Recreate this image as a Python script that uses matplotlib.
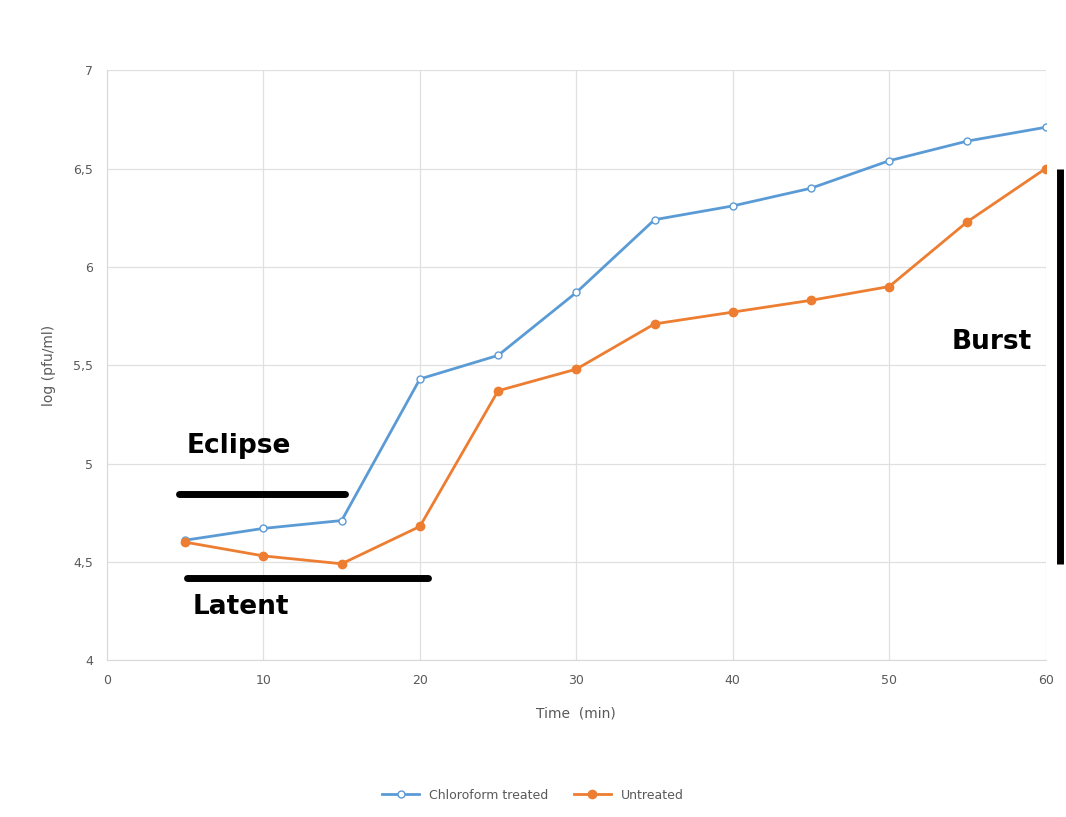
import numpy as np
import matplotlib.pyplot as plt
from matplotlib.ticker import FuncFormatter

time = [5, 10, 15, 20, 25, 30, 35, 40, 45, 50, 55, 60]
chloroform = [4.61, 4.67, 4.71, 5.43, 5.55, 5.87, 6.24, 6.31, 6.40, 6.54, 6.64, 6.71]
untreated = [4.60, 4.53, 4.49, 4.68, 5.37, 5.48, 5.71, 5.77, 5.83, 5.90, 6.23, 6.50]

blue = "#5B9BD5"
orange = "#ED7D31"
grey = "#595959"

fig = plt.figure(figsize=(10.66, 8.17), dpi=100)
ax = fig.add_axes([0.1004, 0.192, 0.8805, 0.722])

ax.plot(time, chloroform, color=blue, lw=2, marker="o", ms=5,
        markerfacecolor="white", markeredgecolor=blue, markeredgewidth=1,
        label="Chloroform treated")
ax.plot(time, untreated, color=orange, lw=2, marker="o", ms=6,
        label="Untreated")

ax.set_xlim(0, 60)
ax.set_ylim(4, 7)
ax.set_xticks(range(0, 61, 10))
ax.set_yticks(np.arange(4, 7.01, 0.5))
ax.yaxis.set_major_formatter(FuncFormatter(lambda v, p: ("%g" % v).replace(".", ",")))
ax.grid(True, color="#e0e0e0", lw=0.9)
ax.set_axisbelow(True)
for s in ["top", "right"]:
    ax.spines[s].set_visible(False)
for s in ["left", "bottom"]:
    ax.spines[s].set_color("#d9d9d9")
ax.tick_params(length=0, colors=grey, labelsize=9, pad=10)
ax.set_xlabel("Time  (min)", color=grey, fontsize=10, labelpad=14)
ax.set_ylabel("log (pfu/ml)", color=grey, fontsize=10, labelpad=12)

# annotation bars
ax.plot([4.6, 15.2], [4.845, 4.845], color="black", lw=5, solid_capstyle="round", clip_on=False)
ax.plot([5.1, 20.5], [4.418, 4.418], color="black", lw=5, solid_capstyle="round", clip_on=False)
ax.plot([60.9, 60.9], [4.49, 6.5], color="black", lw=5, solid_capstyle="butt", clip_on=False)
ax.text(5.1, 5.09, "Eclipse", fontsize=19, fontweight="bold", ha="left", va="center")
ax.text(5.5, 4.27, "Latent", fontsize=19, fontweight="bold", ha="left", va="center")
ax.text(54.0, 5.62, "Burst", fontsize=19, fontweight="bold", ha="left", va="center")

fig.legend(loc="lower center", bbox_to_anchor=(0.5, 0.005), ncol=2, frameon=False,
           fontsize=9, labelcolor=grey, handlelength=3)

fig.savefig("out.png", dpi=100)
